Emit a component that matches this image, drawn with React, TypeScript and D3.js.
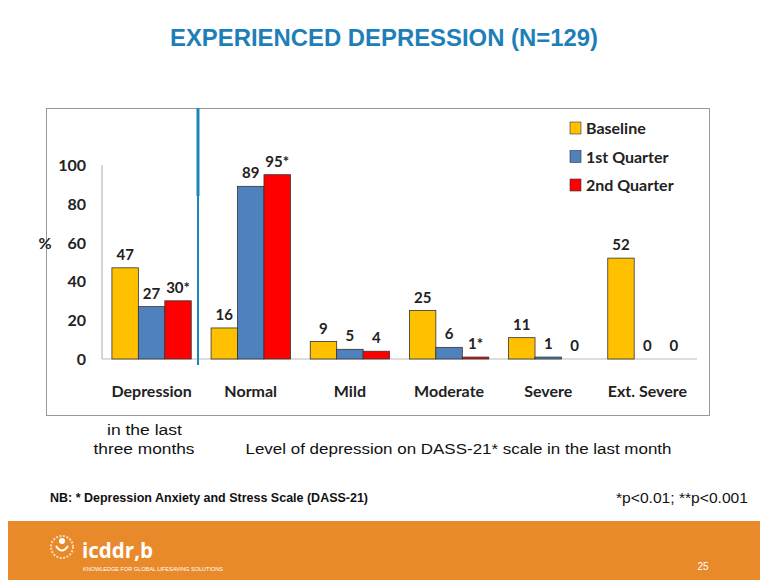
import React from "react";
import * as d3 from "d3";

const categories = ["Depression", "Normal", "Mild", "Moderate", "Severe", "Ext. Severe"];
const seriesNames = ["Baseline", "1st Quarter", "2nd Quarter"];
const baseline = [47, 16, 9, 25, 11, 52];
const quarter1 = [27, 89, 5, 6, 1, 0];
const quarter2 = [30, 95, 4, 1, 0, 0];
const baselineLabels = ["47", "16", "9", "25", "11", "52"];
const quarter1Labels = ["27", "89", "5", "6", "1", "0"];
const quarter2Labels = ["30*", "95*", "4", "1*", "0", "0"];
const yTicks = [0, 20, 40, 60, 80, 100];
const colors = ["#FFC000", "#4F81BD", "#FF0000"];

const W = 768;
const H = 588;
const FONT = "Lato, 'Open Sans', sans-serif";
const ARIAL = "Arial, 'Liberation Sans', sans-serif";

export default function App() {
  const series = [baseline, quarter1, quarter2];
  const labels = [baselineLabels, quarter1Labels, quarter2Labels];

  const x0 = d3.scaleBand<string>().domain(categories).range([102, 697]).paddingInner(0.2).paddingOuter(0.1);
  const x1 = d3.scaleBand<string>().domain(seriesNames).range([0, x0.bandwidth()]);
  const y = d3.scaleLinear().domain([0, 100]).range([359, 165]);

  return (
    <div style={{ margin: -8 }}>
      <svg width={W} height={H} style={{ display: "block" }}>
        <rect x={0} y={0} width={W} height={H} fill="#fff" />
        <text x={384} y={46} textAnchor="middle" fontFamily={ARIAL} fontWeight="bold" fontSize={23} fill="#1E7FB8" textLength={428} lengthAdjust="spacingAndGlyphs">
          EXPERIENCED DEPRESSION (N=129)
        </text>

        {/* chart frame */}
        <rect x={46.5} y={108.5} width={663} height={307} fill="none" stroke="#999" strokeWidth={1} />

        {/* axes */}
        <line x1={102} x2={102} y1={y(100)} y2={y(0)} stroke="#bbb" strokeWidth={1.2} />
        <line x1={102} x2={697} y1={y(0)} y2={y(0)} stroke="#bbb" strokeWidth={1.2} />
        {yTicks.map((t) => (
          <text key={t} x={86} y={y(t) + 6} textAnchor="end" fontFamily={FONT} fontWeight="bold" fontSize={16} fill="#222">
            {t}
          </text>
        ))}
        <text x={45} y={249} textAnchor="middle" fontFamily={FONT} fontWeight="bold" fontSize={16} fill="#222">%</text>

        {/* bars */}
        {categories.map((c, i) => (
          <g key={c} transform={`translate(${x0(c)},0)`}>
            {seriesNames.map((s, j) => {
              const v = series[j][i];
              const bx = x1(s) as number;
              const bw = x1.bandwidth();
              return (
                <g key={s}>
                  {v > 0 && (
                    <rect x={bx} y={y(v)} width={bw} height={y(0) - y(v)} fill={colors[j]} stroke="#333" strokeWidth={0.8} />
                  )}
                  <text x={bx + bw / 2} y={y(v) - 8} textAnchor="middle" fontFamily={FONT} fontWeight="bold" fontSize={15} fill="#222">
                    {labels[j][i]}
                  </text>
                </g>
              );
            })}
            <text x={x0.bandwidth() / 2} y={397} textAnchor="middle" fontFamily={FONT} fontWeight="bold" fontSize={16} fill="#222">
              {c}
            </text>
          </g>
        ))}

        {/* vertical divider */}
        <line x1={198} x2={198} y1={108} y2={196} stroke="#1A87B8" strokeWidth={3} />
        <line x1={198} x2={198} y1={196} y2={365} stroke="#1A87B8" strokeWidth={2} />

        {/* legend */}
        {seriesNames.map((s, j) => (
          <g key={s} transform={`translate(570,${128 + j * 28.5})`}>
            <rect x={0} y={-6} width={11} height={12} fill={colors[j]} stroke="#333" strokeWidth={0.6} />
            <text x={16} y={6} fontFamily={FONT} fontWeight="bold" fontSize={16} fill="#222">{s}</text>
          </g>
        ))}

        {/* annotations */}
        <text x={144.5} y={435} textAnchor="middle" fontFamily={ARIAL} fontSize={15.5} fill="#111" textLength={75} lengthAdjust="spacingAndGlyphs">in the last</text>
        <text x={144} y={454} textAnchor="middle" fontFamily={ARIAL} fontSize={15.5} fill="#111" textLength={101} lengthAdjust="spacingAndGlyphs">three months</text>
        <text x={245.5} y={454} fontFamily={ARIAL} fontSize={15.5} fill="#111" textLength={426} lengthAdjust="spacingAndGlyphs">
          Level of depression on DASS-21* scale in the last month
        </text>
        <text x={50} y={502} fontFamily={ARIAL} fontWeight="bold" fontSize={12} fill="#111" textLength={318} lengthAdjust="spacingAndGlyphs">
          NB: * Depression Anxiety and Stress Scale (DASS-21)
        </text>
        <text x={748} y={503} textAnchor="end" fontFamily={ARIAL} fontSize={15} fill="#111" textLength={132} lengthAdjust="spacingAndGlyphs">
          *p&lt;0.01; **p&lt;0.001
        </text>

        {/* footer */}
        <rect x={0} y={521} width={W} height={H - 521} fill="#E8892A" />
        <g transform="translate(62,547)" fill="none" stroke="#fff" strokeWidth={2}>
          <circle cx={0} cy={0} r={11} strokeOpacity={0.7} strokeDasharray="2 1.5" />
          <circle cx={0} cy={-6} r={3} fill="#fff" stroke="none" />
          <path d="M -6 -1 Q 0 8 6 -1" />
        </g>
        <text x={82} y={558} fontFamily="'Open Sans', Arial, sans-serif" fontWeight="bold" fontSize={22} fill="#fff" textLength={71} lengthAdjust="spacingAndGlyphs">icddr,b</text>
        <text x={83} y={571} fontFamily={ARIAL} fontSize={5.5} fill="#fff" textLength={140} lengthAdjust="spacingAndGlyphs">
          KNOWLEDGE FOR GLOBAL LIFESAVING SOLUTIONS
        </text>
        <text x={703} y={570} textAnchor="middle" fontFamily={ARIAL} fontSize={10} fill="#fff">25</text>
      </svg>
    </div>
  );
}
